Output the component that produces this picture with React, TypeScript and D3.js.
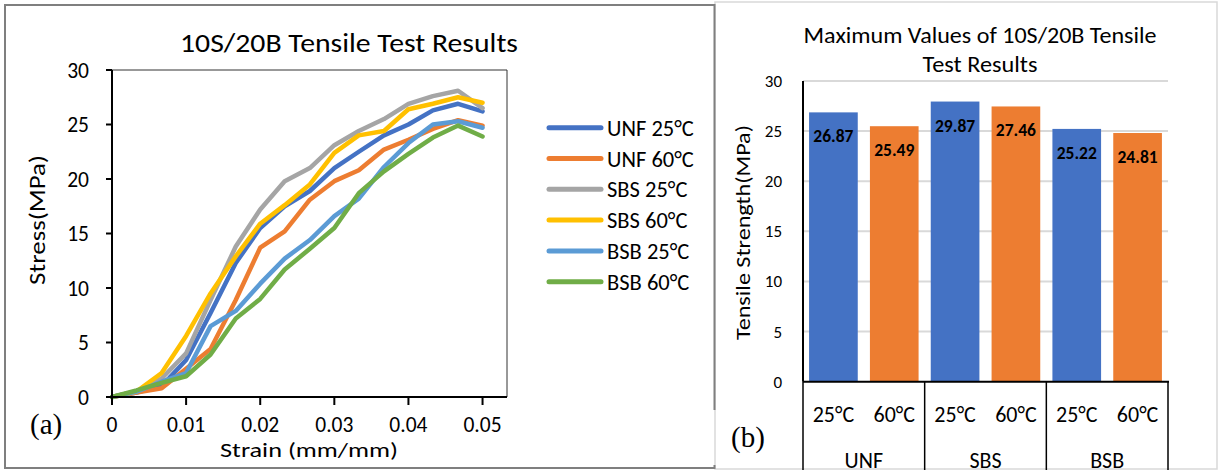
import React from "react";
import * as d3 from "d3";

const FONT = "Carlito, Calibri, Lato, sans-serif";

// ---- (a) stress-strain curves ----
const strain = [0, 0.0033, 0.0067, 0.01, 0.0133, 0.0167, 0.02, 0.0233, 0.0267, 0.03, 0.0333, 0.0367, 0.04, 0.0433, 0.0467, 0.05];

const unf25 = [0, 0.4, 1.0, 3.4, 7.7, 12.3, 15.5, 17.5, 18.9, 21.0, 22.5, 24.0, 25.0, 26.3, 26.9, 26.2];
const unf60 = [0, 0.4, 0.8, 2.6, 4.4, 8.9, 13.7, 15.2, 18.1, 19.8, 20.8, 22.7, 23.6, 24.6, 25.4, 24.9];
const sbs25 = [0, 0.5, 1.7, 4.0, 8.9, 13.8, 17.2, 19.8, 21.0, 23.1, 24.4, 25.5, 26.9, 27.6, 28.1, 26.5];
const sbs60 = [0, 0.5, 2.2, 5.6, 9.5, 12.9, 15.9, 17.6, 19.5, 22.4, 24.0, 24.4, 26.4, 26.9, 27.5, 27.0];
const bsb25 = [0, 0.5, 1.4, 2.2, 6.5, 7.9, 10.4, 12.7, 14.4, 16.6, 18.2, 21.1, 23.3, 25.0, 25.3, 24.7];
const bsb60 = [0, 0.6, 1.3, 1.9, 3.9, 7.2, 9.0, 11.7, 13.6, 15.5, 18.7, 20.7, 22.3, 23.8, 24.9, 23.9];

const seriesNames = ["UNF 25°C", "UNF 60°C", "SBS 25°C", "SBS 60°C", "BSB 25°C", "BSB 60°C"];
const seriesValues = [unf25, unf60, sbs25, sbs60, bsb25, bsb60];
const seriesColors = ["#4472C4", "#ED7D31", "#A5A5A5", "#FFC000", "#5B9BD5", "#70AD47"];

const strainTicks = [0, 0.01, 0.02, 0.03, 0.04, 0.05];
const strainTickLabels = ["0", "0.01", "0.02", "0.03", "0.04", "0.05"];
const stressTicks = [0, 5, 10, 15, 20, 25, 30];

// ---- (b) maximum values ----
const groups = ["UNF", "SBS", "BSB"];
const temps = ["25°C", "60°C"];
const maxStrength = [26.87, 25.49, 27.95, 27.46, 25.22, 24.81];
const maxLabels = ["26.87", "25.49", "29.87", "27.46", "25.22", "24.81"];
const barColors = ["#4472C4", "#ED7D31"];

function LinePanel() {
  const x = d3.scaleLinear().domain([0, 0.0533]).range([112, 507]);
  const y = d3.scaleLinear().domain([0, 30]).range([397, 70]);
  const line = d3.line<number>()
    .x((_, i) => x(strain[i]))
    .y(d => y(d));

  return (
    <g>
      <text x={349} y={52} textAnchor="middle" fontFamily={FONT} fontSize={26}
        textLength={338} lengthAdjust="spacingAndGlyphs" fill="#000">10S/20B Tensile Test Results</text>

      {/* plot frame */}
      <line x1={x(0)} x2={507} y1={70} y2={70} stroke="#333" strokeWidth={1} />
      <line x1={507} x2={507} y1={70} y2={y(0)} stroke="#333" strokeWidth={1} />

      {seriesValues.map((vals, i) => (
        <path key={seriesNames[i]} d={line(vals) || ""} fill="none" stroke={seriesColors[i]}
          strokeWidth={4.5} strokeLinejoin="round" strokeLinecap="round" />
      ))}

      {/* axes */}
      <line x1={x(0)} x2={507} y1={y(0)} y2={y(0)} stroke="#000" strokeWidth={2} />
      <line x1={x(0)} x2={x(0)} y1={70} y2={y(0)} stroke="#000" strokeWidth={2} />
      {strainTicks.map((t, i) => (
        <g key={"xt" + t}>
          <line x1={x(t)} x2={x(t)} y1={y(0)} y2={y(0) + 8} stroke="#000" strokeWidth={2} />
          <text x={x(t)} y={432} textAnchor="middle" fontFamily={FONT} fontSize={21.5} fill="#000">{strainTickLabels[i]}</text>
        </g>
      ))}
      {stressTicks.map(t => (
        <g key={"yt" + t}>
          <line x1={x(0) - 6} x2={x(0)} y1={y(t)} y2={y(t)} stroke="#000" strokeWidth={2} />
          <text x={89} y={y(t) + 7.5} textAnchor="end" fontFamily={FONT} fontSize={21.5} fill="#000">{t}</text>
        </g>
      ))}

      <text x={309} y={457} textAnchor="middle" fontFamily={FONT} fontSize={21}
        textLength={178} lengthAdjust="spacingAndGlyphs" fill="#000">Strain (mm/mm)</text>
      <text transform="translate(45,220) rotate(-90)" textAnchor="middle" fontFamily={FONT} fontSize={21.5}
        textLength={130} lengthAdjust="spacingAndGlyphs" fill="#000">Stress(MPa)</text>

      {/* legend */}
      {seriesNames.map((name, i) => {
        const cy = 127.7 + i * 30.8;
        return (
          <g key={"lg" + name}>
            <line x1={549} x2={601} y1={cy} y2={cy} stroke={seriesColors[i]} strokeWidth={5} strokeLinecap="round" />
            <text x={607} y={cy + 8} fontFamily={FONT} fontSize={22.5} fill="#000">{name}</text>
          </g>
        );
      })}

      <text x={30} y={434} fontFamily="'Liberation Serif', 'Times New Roman', serif" fontSize={29} fill="#000">(a)</text>
    </g>
  );
}

function BarPanel() {
  const y = d3.scaleLinear().domain([0, 30]).range([381.7, 81]);
  const xg = d3.scaleBand().domain(groups).range([803, 1168]);
  const xs = d3.scaleBand().domain(temps).range([0, xg.bandwidth()]).paddingInner(0.2).paddingOuter(0.1);
  const bars = groups.flatMap((g, gi) => temps.map((t, ti) => ({
    g, t, ti, v: maxStrength[gi * 2 + ti], label: maxLabels[gi * 2 + ti],
  })));

  return (
    <g>
      <text x={980} y={43} textAnchor="middle" fontFamily={FONT} fontSize={22}
        textLength={353} lengthAdjust="spacingAndGlyphs" fill="#000">Maximum Values of 10S/20B Tensile</text>
      <text x={980} y={71.5} textAnchor="middle" fontFamily={FONT} fontSize={22}
        textLength={115} lengthAdjust="spacingAndGlyphs" fill="#000">Test Results</text>

      {y.ticks(6).map(t => (
        <g key={"g" + t}>
          {t > 0 && <line x1={803} x2={1168} y1={y(t)} y2={y(t)} stroke="#D9D9D9" strokeWidth={2} />}
          <text x={782} y={y(t) + 6} textAnchor="end" fontFamily={FONT} fontSize={17} fill="#000">{t}</text>
        </g>
      ))}

      {bars.map(b => {
        const bx = (xg(b.g) || 0) + (xs(b.t) || 0);
        return (
          <g key={b.g + b.t}>
            <rect x={bx} y={y(b.v)} width={xs.bandwidth()} height={y(0) - y(b.v)} fill={barColors[b.ti]} />
            <text x={bx + xs.bandwidth() / 2} y={y(b.v) + 30} textAnchor="middle" fontFamily={FONT}
              fontWeight="bold" fontSize={17.5} fill="#000">{b.label}</text>
            <text x={bx + xs.bandwidth() / 2} y={421.5} textAnchor="middle" fontFamily={FONT} fontSize={22} fill="#000">{b.t}</text>
          </g>
        );
      })}

      <line x1={803} x2={803} y1={81} y2={y(0)} stroke="#000" strokeWidth={2} />
      <line x1={803} x2={1169} y1={y(0)} y2={y(0)} stroke="#000" strokeWidth={2} />
      {[...groups.map(g => xg(g) || 0), 1168].map(v => (
        <line key={"sep" + v} x1={v} x2={v} y1={y(0)} y2={470} stroke="#000" strokeWidth={1.5} />
      ))}
      {groups.map(g => (
        <text key={"cat" + g} x={(xg(g) || 0) + xg.bandwidth() / 2} y={467.5} textAnchor="middle"
          fontFamily={FONT} fontSize={22} fill="#000">{g}</text>
      ))}

      <text transform="translate(750,232.5) rotate(-90)" textAnchor="middle" fontFamily={FONT} fontSize={21}
        textLength={215} lengthAdjust="spacingAndGlyphs" fill="#000">Tensile Strength(MPa)</text>

      <text x={731} y={447} fontFamily="'Liberation Serif', 'Times New Roman', serif" fontSize={29} fill="#000">(b)</text>
    </g>
  );
}

export default function App() {
  return (
    <svg width={1224} height={472} style={{ position: "absolute", left: 0, top: 0, background: "#fff" }}>
      <rect x={0} y={0} width={1224} height={472} fill="#fff" />
      {/* panel borders */}
      <rect x={715} y={2} width={502} height={467} fill="none" stroke="#D9D9D9" strokeWidth={1.5} />
      <path d="M714.5,410 V5 H5 V468 H714.5 V465" fill="none" stroke="#7F7F7F" strokeWidth={2} />
      <LinePanel />
      <BarPanel />
    </svg>
  );
}
